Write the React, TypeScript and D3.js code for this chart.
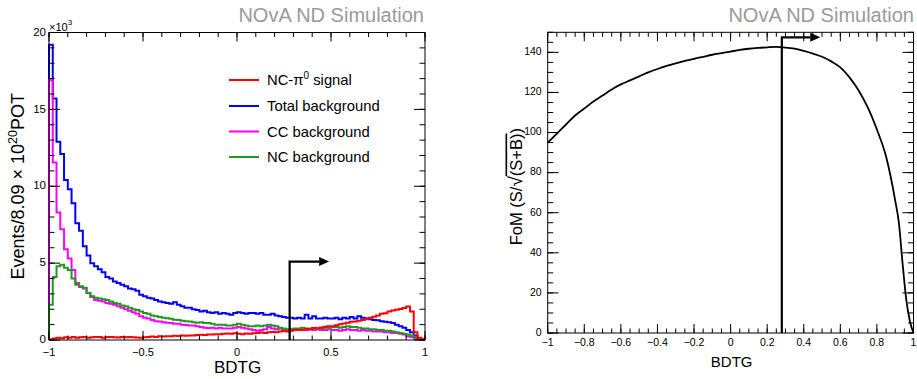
import React from "react";
import * as d3 from "d3";

// ---- Data ----
const nBins = 100;
const binRange: [number, number] = [-1, 1];

const signal = [
  0.05, 0.1, 0.15, 0.12, 0.18, 0.15, 0.2, 0.15, 0.18, 0.2,
  0.15, 0.18, 0.2, 0.2, 0.15, 0.2, 0.2, 0.18, 0.16, 0.2,
  0.18, 0.2, 0.18, 0.16, 0.15, 0.18, 0.2, 0.22, 0.2, 0.24,
  0.22, 0.25, 0.24, 0.28, 0.26, 0.3, 0.28, 0.3, 0.3, 0.32,
  0.34, 0.32, 0.36, 0.35, 0.38, 0.37, 0.4, 0.42, 0.4, 0.44,
  0.4, 0.38, 0.42, 0.4, 0.44, 0.46, 0.48, 0.45, 0.5, 0.52,
  0.5, 0.55, 0.58, 0.56, 0.6, 0.66, 0.65, 0.68, 0.72, 0.7,
  0.78, 0.76, 0.82, 0.86, 0.9, 0.9, 0.96, 1.02, 1.08, 1.12,
  1.18, 1.2, 1.26, 1.3, 1.38, 1.44, 1.52, 1.6, 1.7, 1.74,
  1.86, 1.92, 1.96, 2.02, 2.08, 2.18, 1.85, 0.5, 0.15, 0.03,
];

const totalBkg = [
  19.2, 15.7, 12.9, 12.1, 10.4, 9.8, 8.9, 7.6, 7.1, 6.1,
  5.5, 5.0, 4.8, 4.6, 4.4, 4.1, 4.0, 3.8, 3.7, 3.6,
  3.5, 3.35, 3.3, 3.2, 2.95, 2.85, 2.75, 2.7, 2.6, 2.5,
  2.45, 2.4, 2.35, 2.45, 2.3, 2.2, 2.1, 2.1, 2.0, 1.95,
  1.85, 1.9, 1.8, 1.75, 1.8, 1.7, 1.75, 1.7, 1.65, 1.75,
  1.8, 1.75, 1.7, 1.75, 1.75, 1.7, 1.75, 1.65, 1.65, 1.7,
  1.6, 1.55, 1.5, 1.45, 1.45, 1.4, 1.45, 1.4, 1.65, 1.4,
  1.55, 1.4, 1.4, 1.45, 1.4, 1.4, 1.45, 1.35, 1.45, 1.4,
  1.5, 1.4, 1.55, 1.45, 1.4, 1.35, 1.3, 1.28, 1.22, 1.18,
  1.15, 1.1, 1.0, 0.9, 0.8, 0.65, 0.5, 0.3, 0.1, 0.03,
];

const ccBkg = [
  16.9, 11.55, 8.3, 7.2, 5.9, 5.3, 4.55, 3.7, 3.45, 3.35,
  3.05, 2.8, 2.6, 2.55, 2.5, 2.4, 2.35, 2.3, 2.2, 2.1,
  2.0, 1.9, 1.8, 1.7, 1.55, 1.45, 1.4, 1.3, 1.22, 1.2,
  1.15, 1.12, 1.1, 1.05, 1.05, 1.0, 0.98, 0.95, 0.95, 0.9,
  0.85, 0.8, 0.78, 0.8, 0.75, 0.8, 0.75, 0.75, 0.75, 0.8,
  0.85, 0.8, 0.75, 0.7, 0.65, 0.6, 0.65, 0.7, 0.85, 0.75,
  0.7, 0.75, 0.65, 0.65, 0.7, 0.65, 0.7, 0.65, 0.65, 0.7,
  0.65, 0.7, 0.65, 0.65, 0.7, 0.65, 0.65, 0.6, 0.65, 0.7,
  0.65, 0.65, 0.6, 0.65, 0.6, 0.6, 0.55, 0.55, 0.55, 0.5,
  0.5, 0.45, 0.45, 0.4, 0.35, 0.25, 0.2, 0.12, 0.05, 0.02,
];

const ncBkg = [
  2.3, 4.1, 4.8, 4.9, 4.7, 4.55, 4.0, 3.6, 3.5, 3.4,
  3.05, 2.85, 2.75, 2.7, 2.65, 2.6, 2.5, 2.4, 2.35, 2.25,
  2.2, 2.1, 2.0, 1.95, 1.85, 1.75, 1.7, 1.6, 1.55, 1.5,
  1.45, 1.42, 1.38, 1.32, 1.3, 1.25, 1.22, 1.2, 1.15, 1.12,
  1.15, 1.1, 1.1, 1.05, 1.0, 1.0, 1.0, 0.95, 0.95, 1.0,
  1.05, 1.0, 0.95, 0.9, 0.9, 0.95, 0.9, 0.95, 1.0, 0.95,
  0.9, 0.8, 0.75, 0.7, 0.7, 0.75, 0.75, 0.8, 0.75, 0.75,
  0.8, 0.75, 0.75, 0.8, 0.8, 0.85, 0.85, 0.8, 0.85, 0.9,
  0.85, 0.85, 0.8, 0.75, 0.75, 0.7, 0.7, 0.65, 0.65, 0.6,
  0.6, 0.55, 0.5, 0.45, 0.4, 0.35, 0.3, 0.2, 0.1, 0.05,
];

const fomX = [
  -1, -0.95, -0.9, -0.85, -0.8, -0.75, -0.7, -0.65, -0.6, -0.55,
  -0.5, -0.45, -0.4, -0.35, -0.3, -0.25, -0.2, -0.15, -0.1, -0.05,
  0, 0.05, 0.1, 0.15, 0.2, 0.25, 0.3, 0.35, 0.4, 0.45,
  0.5, 0.55, 0.6, 0.65, 0.7, 0.75, 0.8, 0.85, 0.9, 0.92,
  0.94, 0.96, 0.98, 1.0,
];
const fomY = [
  95, 99.5, 104, 108.5, 112, 115.5, 118.5, 121.5, 124, 126,
  128, 130, 131.7, 133.2, 134.5, 135.7, 136.8, 137.8, 138.8, 139.6,
  140.4, 141.2, 141.8, 142.2, 142.5, 142.7, 142.4, 141.8, 140.7, 139.4,
  137.8, 135.5, 132.5, 127.5, 121, 112.5, 101.5, 88, 66, 55,
  35, 17, 6, 0,
];

const cutValue = 0.28;
const arrowEnd = 0.49;
const leftArrowHeight = 5.1; // in 10^3 events
const rightArrowHeight = 147.5; // FoM units

const leftXTicks = [-1, -0.5, 0, 0.5, 1];
const leftYTicks = [0, 5, 10, 15, 20];
const rightXTicks = [-1, -0.8, -0.6, -0.4, -0.2, 0, 0.2, 0.4, 0.6, 0.8, 1];
const rightYTicks = [0, 20, 40, 60, 80, 100, 120, 140];

const legendLabels = ["NC-π", "Total background", "CC background", "NC background"];
const seriesColors = ["#ff0000", "#0000ff", "#ff00ff", "#1f9a1f"];

const FONT = "'Liberation Sans', Arial, Helvetica, sans-serif";

function fmt(v: number) {
  const s = d3.format("~g")(Math.round(v * 100) / 100);
  return s.replace("-", "\u2212");
}

type Frame = { left: number; right: number; top: number; bottom: number };

function FrameTicks(props: {
  f: Frame;
  x: d3.ScaleLinear<number, number>;
  y: d3.ScaleLinear<number, number>;
  xMajor: number[];
  xMinorStep: number;
  yMajor: number[];
  yMinorStep: number;
  yMax: number;
}) {
  const { f, x, y, xMajor, xMinorStep, yMajor, yMinorStep, yMax } = props;
  const xMinor = d3.range(Math.round(2 / xMinorStep) + 1).map((i) => -1 + i * xMinorStep);
  const yMinor = d3.range(Math.round(yMax / yMinorStep) + 1).map((i) => i * yMinorStep);
  const xMajLen = 9, xMinLen = 4.5, yMajLen = 11, yMinLen = 5.5;
  const lines: JSX.Element[] = [];
  xMinor.forEach((v, i) => {
    const px = x(v);
    lines.push(<line key={"xb" + i} x1={px} x2={px} y1={f.bottom} y2={f.bottom - xMinLen} />);
    lines.push(<line key={"xt" + i} x1={px} x2={px} y1={f.top} y2={f.top + xMinLen} />);
  });
  xMajor.forEach((v, i) => {
    const px = x(v);
    lines.push(<line key={"xB" + i} x1={px} x2={px} y1={f.bottom} y2={f.bottom - xMajLen} />);
    lines.push(<line key={"xT" + i} x1={px} x2={px} y1={f.top} y2={f.top + xMajLen} />);
  });
  yMinor.forEach((v, i) => {
    const py = y(v);
    lines.push(<line key={"yl" + i} x1={f.left} x2={f.left + yMinLen} y1={py} y2={py} />);
    lines.push(<line key={"yr" + i} x1={f.right} x2={f.right - yMinLen} y1={py} y2={py} />);
  });
  yMajor.forEach((v, i) => {
    const py = y(v);
    lines.push(<line key={"yL" + i} x1={f.left} x2={f.left + yMajLen} y1={py} y2={py} />);
    lines.push(<line key={"yR" + i} x1={f.right} x2={f.right - yMajLen} y1={py} y2={py} />);
  });
  return (
    <g stroke="#000" strokeWidth={1}>
      {lines}
      <rect x={f.left} y={f.top} width={f.right - f.left} height={f.bottom - f.top} fill="none" />
    </g>
  );
}

export default function App() {
  const W = 917, H = 379;
  const L: Frame = { left: 49, right: 425, top: 32.5, bottom: 340 };
  const R: Frame = { left: 547.7, right: 913.5, top: 32.3, bottom: 333 };

  const xL = d3.scaleLinear().domain(binRange).range([L.left, L.right]);
  const yL = d3.scaleLinear().domain([0, 20]).range([L.bottom, L.top]);
  const xR = d3.scaleLinear().domain(binRange).range([R.left, R.right]);
  const yR = d3.scaleLinear().domain([0, 150]).range([R.bottom, R.top]);

  const edges = d3.range(nBins + 1).map((i) => binRange[0] + ((binRange[1] - binRange[0]) * i) / nBins);

  const histPath = (vals: number[]) => {
    const pts: [number, number][] = [[edges[0], 0]];
    vals.forEach((v, i) => {
      pts.push([edges[i], v]);
      pts.push([edges[i + 1], v]);
    });
    pts.push([edges[nBins], 0]);
    return d3
      .line<[number, number]>()
      .x((d) => xL(d[0]))
      .y((d) => yL(d[1]))(pts) as string;
  };

  const fomPath = d3
    .line<number>()
    .x((_, i) => xR(fomX[i]))
    .y((d) => yR(d))
    .curve(d3.curveMonotoneX)(fomY) as string;

  const arrow = (x0: number, yTop: number, yBot: number, x1: number) => {
    const head = 10;
    return (
      <g>
        <path
          d={`M${x0},${yBot}L${x0},${yTop}L${x1 - head},${yTop}`}
          fill="none"
          stroke="#000"
          strokeWidth={2.2}
        />
        <polygon
          points={`${x1},${yTop} ${x1 - head},${yTop - 4.5} ${x1 - head},${yTop + 4.5}`}
          fill="#000"
        />
      </g>
    );
  };

  const histSeries = [totalBkg, ccBkg, ncBkg, signal];
  const histColors = [seriesColors[1], seriesColors[2], seriesColors[3], seriesColors[0]];

  const legendY = [80, 106, 131.5, 157];

  return (
    <svg
      width={W}
      height={H}
      style={{ position: "absolute", left: 0, top: 0, background: "#fff" }}
      fontFamily={FONT}
    >
      <rect x={0} y={0} width={W} height={H} fill="#fff" />

      {/* ---------- Left panel ---------- */}
      <g>
        {histSeries.map((vals, i) => (
          <path key={i} d={histPath(vals)} fill="none" stroke={histColors[i]} strokeWidth={2} />
        ))}
        {arrow(xL(cutValue), yL(leftArrowHeight), yL(0), xL(arrowEnd))}
        <FrameTicks
          f={L}
          x={xL}
          y={yL}
          xMajor={leftXTicks}
          xMinorStep={0.1}
          yMajor={leftYTicks}
          yMinorStep={1}
          yMax={20}
        />
        {leftXTicks.map((v) => (
          <text key={v} x={xL(v)} y={355.5} fontSize={11} textAnchor="middle" fill="#000">
            {fmt(v)}
          </text>
        ))}
        {leftYTicks.map((v) => (
          <text key={v} x={L.left - 3} y={yL(v) - 1} dy="0.36em" fontSize={11.5} textAnchor="end" fill="#000">
            {fmt(v)}
          </text>
        ))}
        <text x={L.left} y={31} fontSize={11} fill="#000">
          ×10
          <tspan fontSize={8} dy={-6}>3</tspan>
        </text>
        <text x={237.5} y={373} fontSize={17} textAnchor="middle" fill="#000">BDTG</text>
        <text
          transform={`translate(24,${(L.top + L.bottom) / 2}) rotate(-90)`}
          fontSize={18}
          textAnchor="middle"
          fill="#000"
        >
          Events/8.09 × 10
          <tspan fontSize={12.5} dy={-7.5}>20</tspan>
          <tspan dy={7.5}>POT</tspan>
        </text>
        <text x={424} y={22} fontSize={20} textAnchor="end" fill="#9a9a9a">NOvA ND Simulation</text>

        {/* Legend */}
        {legendLabels.map((lab, i) => (
          <g key={lab}>
            <line x1={229} x2={259} y1={legendY[i]} y2={legendY[i]} stroke={seriesColors[i]} strokeWidth={2} />
            <text x={267} y={legendY[i]} dy="0.36em" fontSize={14.8} fill="#000">
              {lab}
              {i === 0 ? (
                <>
                  <tspan fontSize={10} dy={-6}>0</tspan>
                  <tspan dy={6}> signal</tspan>
                </>
              ) : null}
            </text>
          </g>
        ))}
      </g>

      {/* ---------- Right panel ---------- */}
      <g>
        <path d={fomPath} fill="none" stroke="#000" strokeWidth={1.8} />
        {arrow(xR(cutValue), yR(rightArrowHeight), yR(0), xR(arrowEnd))}
        <FrameTicks
          f={R}
          x={xR}
          y={yR}
          xMajor={rightXTicks}
          xMinorStep={0.05}
          yMajor={rightYTicks}
          yMinorStep={5}
          yMax={150}
        />
        {rightXTicks.map((v) => (
          <text key={v} x={xR(v)} y={346} fontSize={10.5} textAnchor="middle" fill="#000">
            {fmt(v)}
          </text>
        ))}
        {rightYTicks.map((v) => (
          <text key={v} x={R.left - 6} y={yR(v) - 1} dy="0.36em" fontSize={10.5} textAnchor="end" fill="#000">
            {fmt(v)}
          </text>
        ))}
        <text x={731.7} y={366.5} fontSize={15} textAnchor="middle" fill="#000">BDTG</text>
        <text
          transform={`translate(521.5,${(R.top + R.bottom) / 2 + 4}) rotate(-90)`}
          fontSize={16.5}
          textAnchor="middle"
          fill="#000"
        >
          FoM (S/
          <tspan fontSize={19}>√</tspan>
          <tspan style={{ textDecoration: "overline" }}>(S+B)</tspan>)
        </text>
        <text x={914} y={22} fontSize={20} textAnchor="end" fill="#9a9a9a">NOvA ND Simulation</text>
      </g>
    </svg>
  );
}
